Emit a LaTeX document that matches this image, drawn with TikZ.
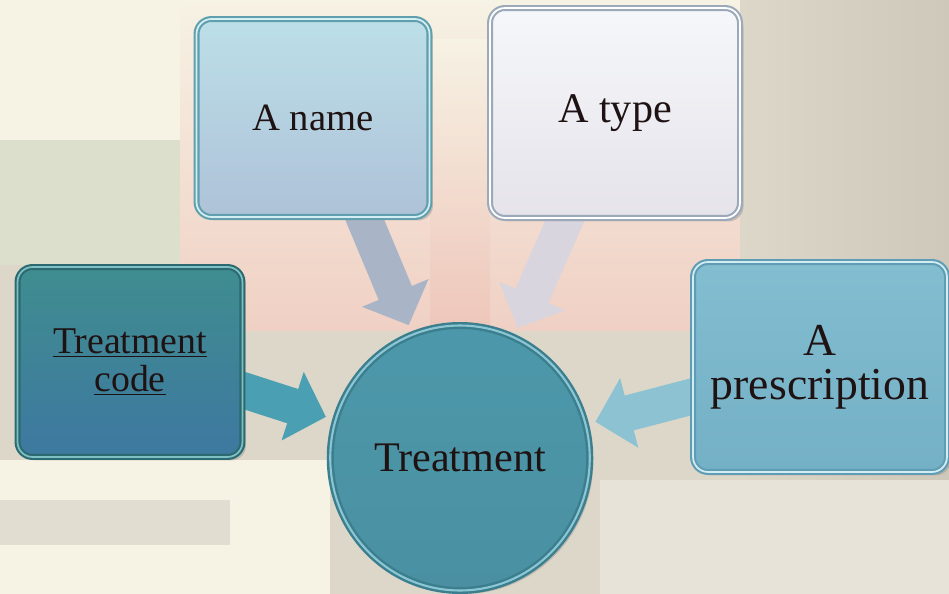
\documentclass[tikz,border=0pt]{standalone}
\usepackage{fontspec}
\setmainfont{Liberation Serif}
\usetikzlibrary{positioning, shapes.geometric, arrows.meta, shadows}

\definecolor{bgbeige}{HTML}{DDD7C9}
\definecolor{bgcream}{HTML}{F6F2E4}
\definecolor{bgsage}{HTML}{DCDFCB}
\definecolor{bgpink}{HTML}{F0D0C4}
\definecolor{bgrose}{HTML}{EEC6BA}
\definecolor{bggrey}{HTML}{CEC8BA}
\definecolor{inkdark}{HTML}{1E1212}
% hub
\definecolor{hubedge}{HTML}{3B7F8F}
\definecolor{hubrim}{HTML}{8CC6D4}
\definecolor{hubtop}{HTML}{4C98AA}
\definecolor{hubbot}{HTML}{4A90A2}
% name
\definecolor{nameedge}{HTML}{5F9FAE}
\definecolor{namerim}{HTML}{D4EEF4}
\definecolor{nametop}{HTML}{BCDFE8}
\definecolor{namebot}{HTML}{AEC2D8}
% type
\definecolor{typeedge}{HTML}{9BA9B9}
\definecolor{typetop}{HTML}{F5F7FA}
\definecolor{typebot}{HTML}{E6E3EB}
% code
\definecolor{codeedge}{HTML}{2B6A70}
\definecolor{coderim}{HTML}{7FC0C4}
\definecolor{codetop}{HTML}{3F8D90}
\definecolor{codebot}{HTML}{3E78A0}
% prescription
\definecolor{prescedge}{HTML}{5E9DB4}
\definecolor{prescrim}{HTML}{D2ECF4}
\definecolor{presctop}{HTML}{82BDD0}
\definecolor{prescbot}{HTML}{74B0C6}
% arrows
\definecolor{namearrow}{HTML}{A9B5C6}
\definecolor{typearrow}{HTML}{D9D5DE}
\definecolor{codearrow}{HTML}{4AA0B2}
\definecolor{prescarrow}{HTML}{8CC2D2}

\pgfdeclarelayer{back}
\pgfdeclarelayer{mid}
\pgfsetlayers{back,mid,main}

\begin{document}
\begin{tikzpicture}[x=0.02cm, y=-0.02cm, >=latex]
      \tikzstyle{plate} = [rectangle, rounded corners=0.3cm, align=center, text=inkdark, line width=1.2pt, double distance=1pt, drop shadow={opacity=0.35, shadow xshift=2pt, shadow yshift=-2pt}, font=\fontsize{25}{26}\selectfont]
      \tikzstyle{hub} = [ellipse, minimum width=5.1cm, minimum height=5.3cm, align=center, text=inkdark, line width=1.4pt, double distance=1.2pt, drop shadow={opacity=0.35, shadow xshift=2pt, shadow yshift=-2pt}, font=\fontsize{24}{26}\selectfont]
      \tikzstyle{pointer} = [line width=0.72cm, -{Triangle[length=0.7cm, width=1.4cm]}, shorten <=-0.3cm, shorten >=0.18cm]

      \useasboundingbox (0,0) rectangle (949,594);

      % mosaic background
      \begin{pgfonlayer}{back}
        \fill[bgbeige] (0,0) rectangle (949,594);
        \fill[bgcream] (0,0) rectangle (200,140);
        \fill[bgsage] (0,140) rectangle (200,265);
        \fill[bgcream] (0,460) rectangle (330,594);
        \fill[bgbeige!85!white] (0,500) rectangle (230,545);
        \shade[top color=bgcream, bottom color=bgpink] (180,0) rectangle (740,330);
        \shade[top color=bgcream, bottom color=bgrose] (430,40) rectangle (490,330);
        \shade[left color=bgbeige, right color=bggrey] (740,0) rectangle (949,594);
        \fill[bgbeige!70!white] (600,480) rectangle (949,594);
      \end{pgfonlayer}

      \node (treat) [hub, draw=hubedge, double=hubrim, top color=hubtop, bottom color=hubbot] at (460,458) {Treatment};

      \node (name) [plate, minimum width=4.66cm, minimum height=3.96cm, draw=nameedge, double=namerim, top color=nametop, bottom color=namebot, font=\fontsize{22}{24}\selectfont] at (313,118) {A name};
      \node (type) [plate, minimum width=5cm, minimum height=4.2cm, draw=typeedge, double=white, top color=typetop, bottom color=typebot, font=\fontsize{24}{26}\selectfont] at (615,113) {A type};
      \node (code) [plate, minimum width=4.5cm, minimum height=3.8cm, draw=codeedge, double=coderim, top color=codetop, bottom color=codebot, font=\fontsize{21.5}{22}\selectfont] at (130,362) {\underline{Treatment}\\\underline{code}};
      \node (presc) [plate, minimum width=5.08cm, minimum height=4.2cm, draw=prescedge, double=prescrim, top color=presctop, bottom color=prescbot, font=\fontsize{26}{25}\selectfont] at (820,367) {A\\prescription};

      \begin{pgfonlayer}{mid}
        \draw [pointer, namearrow] (name.-63) -- (treat.111);
        \draw [pointer, typearrow] (type.-115) -- (treat.66);
        \draw [pointer, codearrow] (code.-14) -- (treat.163);
        \draw [pointer, prescarrow] (presc.193) -- (treat.15);
      \end{pgfonlayer}

    \end{tikzpicture}
\end{document}
